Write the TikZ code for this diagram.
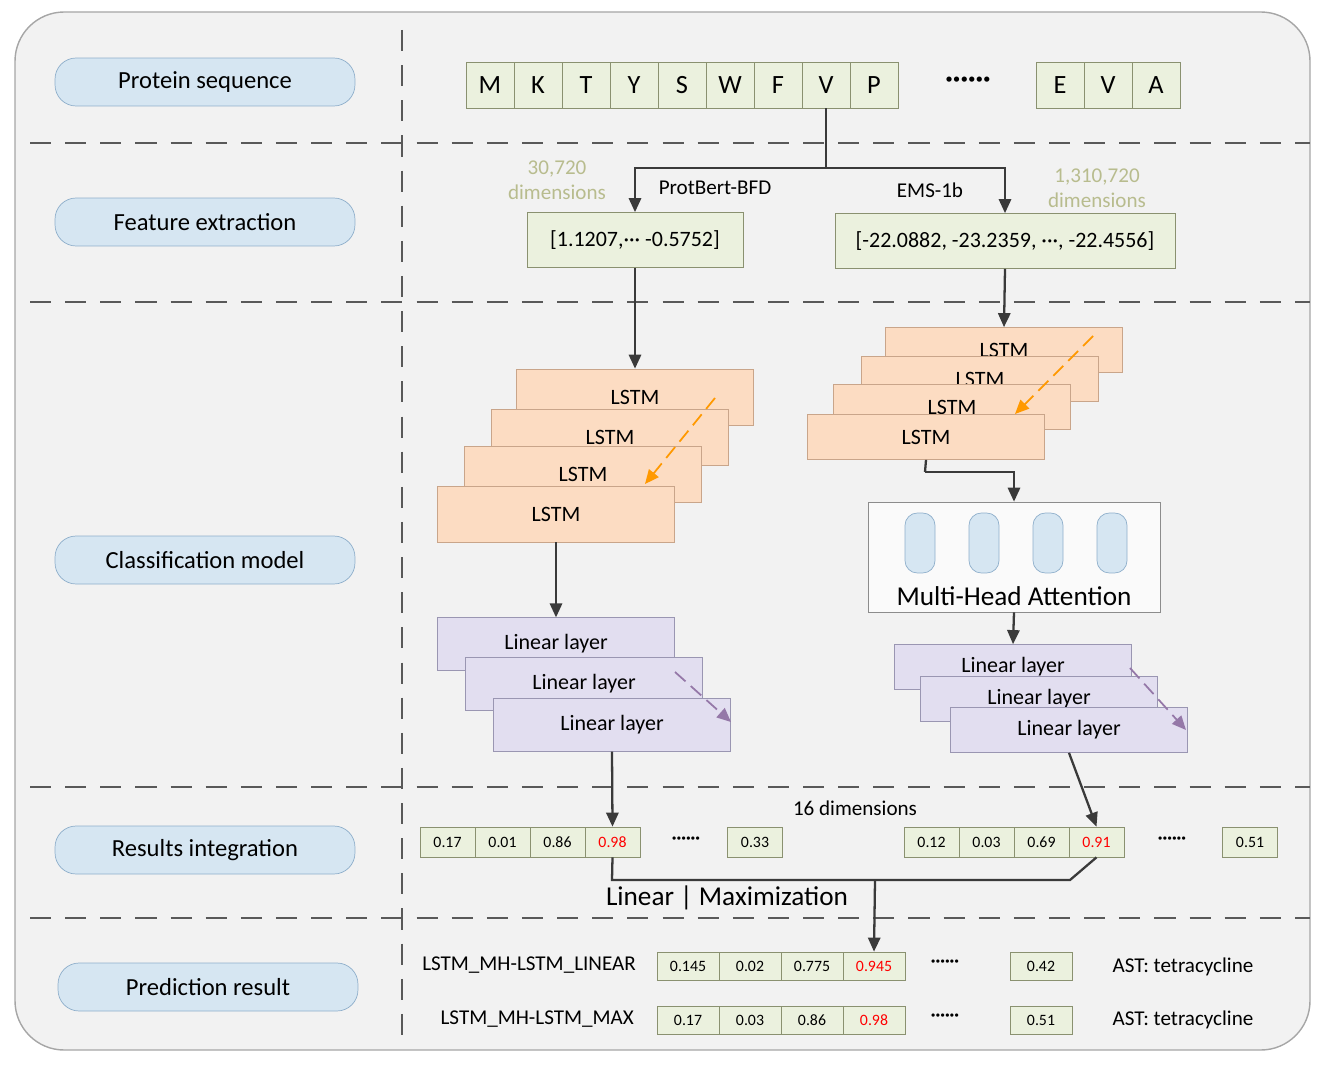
\documentclass[tikz,border=0pt]{standalone}
\usepackage{fontspec}
\setmainfont{Carlito}
\usetikzlibrary{arrows.meta,positioning}
\definecolor{bgc}{HTML}{F2F2F2}
\definecolor{pillc}{HTML}{D6E6F2}
\definecolor{pilld}{HTML}{8FAFCB}
\definecolor{grnc}{HTML}{EBF1DE}
\definecolor{grnd}{HTML}{8A9170}
\definecolor{orc}{HTML}{FCDCC2}
\definecolor{ord}{HTML}{C9A58A}
\definecolor{puc}{HTML}{E2DEF0}
\definecolor{pud}{HTML}{9A96B2}
\definecolor{dimc}{HTML}{B8BC8E}
\definecolor{arrc}{HTML}{3A3A3A}
\tikzset{
  pill/.style={draw=pilld, fill=pillc, rounded corners=12pt, minimum width=6cm, minimum height=0.96cm, font=\fontsize{14}{16}\selectfont},
  seq/.style={draw=grnd, fill=grnc, minimum width=0.96cm, minimum height=0.92cm, inner sep=0pt, font=\fontsize{15}{17}\selectfont},
  feat/.style={draw=grnd, fill=grnc, minimum height=1.1cm, font=\fontsize{12.5}{14}\selectfont},
  lstm/.style={draw=ord, fill=orc, minimum width=4.74cm, minimum height=1.12cm, font=\fontsize{12.5}{14}\selectfont},
  lstmR/.style={lstm, minimum height=0.9cm},
  lin/.style={draw=pud, fill=puc, minimum width=4.74cm, minimum height=1.05cm, font=\fontsize{12.5}{14}\selectfont},
  linR/.style={lin, minimum height=0.9cm},
  num/.style={draw=grnd, fill=grnc, minimum width=1.1cm, minimum height=0.6cm, inner sep=0pt, font=\fontsize{9}{10}\selectfont},
  numP/.style={num, minimum width=1.24cm, minimum height=0.56cm},
  sep/.style={dash pattern=on 12pt off 8pt, line width=1.3pt, draw=black!65},
  arr/.style={-{Triangle[length=8pt,width=7pt]}, line width=1.3pt, draw=arrc},
  line/.style={line width=1.3pt, draw=arrc},
  dim/.style={text=dimc, align=center, font=\fontsize{12}{14}\selectfont},
  lbl/.style={font=\fontsize{12}{14}\selectfont}
}
\begin{document}
\begin{tikzpicture}[x=0.02cm, y=-0.02cm]
\useasboundingbox (0,0) rectangle (1325,1068);
\draw[draw=black!35, fill=bgc, line width=0.8pt, rounded corners=28pt] (15,12) rectangle (1310,1050);

% section separators
\draw[sep] (402,30) -- (402,1045);
\foreach \yy in {143,302,787,918}
  \draw[sep] (30,\yy) -- (1310,\yy);

% section titles
\node[pill] (tSeq) at (205,82) {Protein sequence};
\node[pill] (tFeat) at (205,222) {Feature extraction};
\node[pill] (tCls) at (205,560) {Classification model};
\node[pill] (tRes) at (205,850) {Results integration};
\node[pill] (tPred) at (208,987) {Prediction result};

% sequence
\foreach \ch [count=\i] in {M,K,T,Y,S,W,F,V,P}
  \node[seq] (s\i) at (466+48*\i-24,85) {\ch};
\node[lbl, font=\fontsize{16}{16}\selectfont] (sDots) at (968,82) {\textbf{\textperiodcentered\textperiodcentered\textperiodcentered\textperiodcentered\textperiodcentered\textperiodcentered}};
\foreach \ch [count=\i] in {E,V,A}
  \node[seq] (e\i) at (1036+48*\i-24,85) {\ch};

% feature extraction
\coordinate (split) at (826,168);
\node[feat, minimum width=4.32cm] (fL) at (635,240) {[1.1207,\textperiodcentered\textperiodcentered\textperiodcentered\ -0.5752]};
\node[feat, minimum width=6.8cm] (fR) at (1005,241) {[-22.0882, -23.2359, \textperiodcentered\textperiodcentered\textperiodcentered, -22.4556]};
\draw[line] (s8.south) -- (split);
\draw[arr] (split) -| (fL.north);
\draw[arr] (split) -| (fR.north);
\node[lbl] (pb) at (715,188) {ProtBert-BFD};
\node[lbl] (ems) at (930,190) {EMS-1b};
\node[dim] (dL) at (557,180) {30,720\\dimensions};
\node[dim] (dR) at (1097,188) {1,310,720\\dimensions};

% left LSTM stack
\node[lstm] (lA4) at (635,397) {LSTM};
\node[lstm] (lA3) at (610,437) {LSTM};
\node[lstm] (lA2) at (583,474) {LSTM};
\node[lstm] (lA1) at (556,514) {LSTM};
\draw[arr, draw=orange!80!yellow, dash pattern=on 8pt off 4pt, line width=1pt] (715,398) -- (645,484);
\draw[arr] (fL.south) -- (lA4.north);

% right LSTM stack
\node[lstmR] (rA4) at (1004,350) {LSTM};
\node[lstmR] (rA3) at (980,379) {LSTM};
\node[lstmR] (rA2) at (952,407) {LSTM};
\node[lstmR] (rA1) at (926,437) {LSTM};
\draw[arr, draw=orange!80!yellow, dash pattern=on 8pt off 4pt, line width=1pt] (1093,336) -- (1015,414);
\draw[arr] (fR.south) -- (rA4.north);

% multi-head attention
\node[draw=black!45, fill=white!60!bgc, minimum width=5.84cm, minimum height=2.2cm] (mha) at (1014,557) {};
\foreach \xx [count=\i] in {920,984,1048,1112}
  \node[draw=pilld, fill=pillc, rounded corners=7pt, minimum width=0.6cm, minimum height=1.2cm, inner sep=0pt] (h\i) at (\xx,543) {};
\node[font=\fontsize{15.5}{17}\selectfont] (mhaT) at (1014,596) {Multi-Head Attention};
\coordinate (bend) at (925,472);
\draw[line] (rA1.south) -- (bend);
\draw[arr] (bend) -| (mha.north);

% linear layers, left
\node[lin] (lL3) at (556,644) {Linear layer};
\node[lin] (lL2) at (584,684) {Linear layer};
\node[lin] (lL1) at (612,725) {Linear layer};
\draw[arr, draw=pud!80!violet, dash pattern=on 8pt off 4pt, line width=1pt] (675,672) -- (731,722);
\draw[arr] (lA1.south) -- (lL3.north);

% linear layers, right
\node[linR] (rL3) at (1013,667) {Linear layer};
\node[linR] (rL2) at (1039,699) {Linear layer};
\node[linR] (rL1) at (1069,730) {Linear layer};
\draw[arr, draw=pud!80!violet, dash pattern=on 8pt off 4pt, line width=1pt] (1130,668) -- (1186,730);
\draw[arr] (mha.south) -- (rL3.north);

% results integration
\foreach \v/\c [count=\i] in {0.17/black,0.01/black,0.86/black,0.98/red}
  \node[num, text=\c] (a\i) at (420+55*\i-27.5,842) {\v};
\node (aDots) at (686,840) {\textbf{\textperiodcentered\textperiodcentered\textperiodcentered\textperiodcentered\textperiodcentered\textperiodcentered}};
\node[num] (aL) at (755,842) {0.33};
\foreach \v/\c [count=\i] in {0.12/black,0.03/black,0.69/black,0.91/red}
  \node[num, text=\c] (b\i) at (904+55*\i-27.5,842) {\v};
\node (bDots) at (1172,840) {\textbf{\textperiodcentered\textperiodcentered\textperiodcentered\textperiodcentered\textperiodcentered\textperiodcentered}};
\node[num] (bL) at (1250,842) {0.51};
\draw[arr] (lL1.south) -- (a4.north);
\draw[arr] (rL1.south) -- (b4.north);
\node[lbl] (dims16) at (855,808) {16 dimensions};
\coordinate (mL) at (612,880);
\coordinate (mR) at (1070,880);
\coordinate (mC) at (875,880);
\draw[line] (a4.south) -- (mL) -- (mR) -- (b4.south);
\node[font=\fontsize{15.5}{17}\selectfont] (comb) at (727,898) {Linear | Maximization};

% prediction
\foreach \v/\c [count=\i] in {0.145/black,0.02/black,0.775/black,0.945/red}
  \node[numP, text=\c] (p\i) at (657+62*\i-31,966) {\v};
\node (pDots) at (945,963) {\textbf{\textperiodcentered\textperiodcentered\textperiodcentered\textperiodcentered\textperiodcentered\textperiodcentered}};
\node[numP] (pL) at (1041,966) {0.42};
\foreach \v/\c [count=\i] in {0.17/black,0.03/black,0.86/black,0.98/red}
  \node[numP, text=\c] (q\i) at (657+62*\i-31,1020) {\v};
\node (qDots) at (945,1017) {\textbf{\textperiodcentered\textperiodcentered\textperiodcentered\textperiodcentered\textperiodcentered\textperiodcentered}};
\node[numP] (qL) at (1041,1020) {0.51};
\draw[arr] (mC) -- (p4.north);
\node[lbl, anchor=east] (nLin) at (642,965) {LSTM\_MH-LSTM\_LINEAR};
\node[lbl, anchor=east] (nMax) at (640,1019) {LSTM\_MH-LSTM\_MAX};
\node[lbl] (astA) at (1183,967) {AST: tetracycline};
\node[lbl] (astB) at (1183,1020) {AST: tetracycline};
\end{tikzpicture}
\end{document}
